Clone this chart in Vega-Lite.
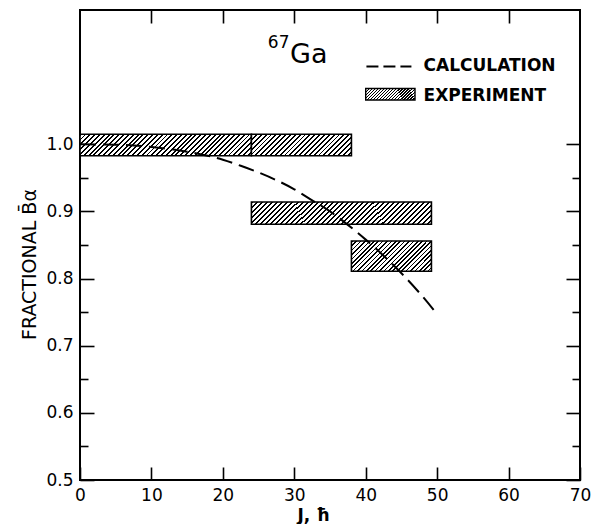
{
 "$schema": "https://vega.github.io/schema/vega-lite/v6.json",
 "width": 500,
 "height": 470,
 "autosize": {"type": "none"},
 "padding": {"left": 80, "top": 10, "right": 13, "bottom": 44},
 "background": "white",
 "config": {
  "view": {"stroke": "black", "strokeWidth": 2},
  "axis": {"domain": false, "grid": false, "labelFlush": false, "tickColor": "black", "tickWidth": 1.6, "labelColor": "black", "labelFont": "DejaVu Sans", "labelFontSize": 17, "titleColor": "black", "titleFont": "DejaVu Sans"}
 },
 "datasets": {
  "experiment": [
   {"id": "A", "j0": 0, "j1": 24, "lo": 0.983, "hi": 1.015},
   {"id": "B", "j0": 24, "j1": 38, "lo": 0.983, "hi": 1.015},
   {"id": "C", "j0": 24, "j1": 49.2, "lo": 0.881, "hi": 0.914},
   {"id": "D", "j0": 38, "j1": 49.2, "lo": 0.811, "hi": 0.856}
  ],
  "calculation": [
   {"J": 0, "B": 1.0}, {"J": 5, "B": 0.9994}, {"J": 10, "B": 0.996}, {"J": 15, "B": 0.989},
   {"J": 20, "B": 0.977}, {"J": 22.5, "B": 0.968}, {"J": 25, "B": 0.958}, {"J": 27.5, "B": 0.9465},
   {"J": 30, "B": 0.933}, {"J": 32.5, "B": 0.9165}, {"J": 35, "B": 0.9}, {"J": 37.5, "B": 0.88},
   {"J": 40, "B": 0.858}, {"J": 42.5, "B": 0.834}, {"J": 45, "B": 0.808}, {"J": 47.5, "B": 0.779},
   {"J": 50, "B": 0.747}
  ]
 },
 "data": {"values": [{}]},
 "resolve": {"axis": {"x": "independent", "y": "independent"}},
 "layer": [
  {
   "data": {"name": "experiment"},
   "transform": [{"filter": "datum.id == 'A' || datum.id == 'C'"}],
   "mark": {"type": "rect", "stroke": "black", "strokeWidth": 1.6, "fill": {"gradient": "linear", "x1": 0, "y1": 0, "x2": 1.108, "y2": 0.139, "stops": [
{"offset":0,"color":"#000"},{"offset":0.01,"color":"#000"},{"offset":0.01,"color":"#fff"},{"offset":0.025,"color":"#fff"},
{"offset":0.025,"color":"#000"},{"offset":0.035,"color":"#000"},{"offset":0.035,"color":"#fff"},{"offset":0.05,"color":"#fff"},
{"offset":0.05,"color":"#000"},{"offset":0.06,"color":"#000"},{"offset":0.06,"color":"#fff"},{"offset":0.075,"color":"#fff"},
{"offset":0.075,"color":"#000"},{"offset":0.085,"color":"#000"},{"offset":0.085,"color":"#fff"},{"offset":0.1,"color":"#fff"},
{"offset":0.1,"color":"#000"},{"offset":0.11,"color":"#000"},{"offset":0.11,"color":"#fff"},{"offset":0.125,"color":"#fff"},
{"offset":0.125,"color":"#000"},{"offset":0.135,"color":"#000"},{"offset":0.135,"color":"#fff"},{"offset":0.15,"color":"#fff"},
{"offset":0.15,"color":"#000"},{"offset":0.16,"color":"#000"},{"offset":0.16,"color":"#fff"},{"offset":0.175,"color":"#fff"},
{"offset":0.175,"color":"#000"},{"offset":0.185,"color":"#000"},{"offset":0.185,"color":"#fff"},{"offset":0.2,"color":"#fff"},
{"offset":0.2,"color":"#000"},{"offset":0.21,"color":"#000"},{"offset":0.21,"color":"#fff"},{"offset":0.225,"color":"#fff"},
{"offset":0.225,"color":"#000"},{"offset":0.235,"color":"#000"},{"offset":0.235,"color":"#fff"},{"offset":0.25,"color":"#fff"},
{"offset":0.25,"color":"#000"},{"offset":0.26,"color":"#000"},{"offset":0.26,"color":"#fff"},{"offset":0.275,"color":"#fff"},
{"offset":0.275,"color":"#000"},{"offset":0.285,"color":"#000"},{"offset":0.285,"color":"#fff"},{"offset":0.3,"color":"#fff"},
{"offset":0.3,"color":"#000"},{"offset":0.31,"color":"#000"},{"offset":0.31,"color":"#fff"},{"offset":0.325,"color":"#fff"},
{"offset":0.325,"color":"#000"},{"offset":0.335,"color":"#000"},{"offset":0.335,"color":"#fff"},{"offset":0.35,"color":"#fff"},
{"offset":0.35,"color":"#000"},{"offset":0.36,"color":"#000"},{"offset":0.36,"color":"#fff"},{"offset":0.375,"color":"#fff"},
{"offset":0.375,"color":"#000"},{"offset":0.385,"color":"#000"},{"offset":0.385,"color":"#fff"},{"offset":0.4,"color":"#fff"},
{"offset":0.4,"color":"#000"},{"offset":0.41,"color":"#000"},{"offset":0.41,"color":"#fff"},{"offset":0.425,"color":"#fff"},
{"offset":0.425,"color":"#000"},{"offset":0.435,"color":"#000"},{"offset":0.435,"color":"#fff"},{"offset":0.45,"color":"#fff"},
{"offset":0.45,"color":"#000"},{"offset":0.46,"color":"#000"},{"offset":0.46,"color":"#fff"},{"offset":0.475,"color":"#fff"},
{"offset":0.475,"color":"#000"},{"offset":0.485,"color":"#000"},{"offset":0.485,"color":"#fff"},{"offset":0.5,"color":"#fff"},
{"offset":0.5,"color":"#000"},{"offset":0.51,"color":"#000"},{"offset":0.51,"color":"#fff"},{"offset":0.525,"color":"#fff"},
{"offset":0.525,"color":"#000"},{"offset":0.535,"color":"#000"},{"offset":0.535,"color":"#fff"},{"offset":0.55,"color":"#fff"},
{"offset":0.55,"color":"#000"},{"offset":0.56,"color":"#000"},{"offset":0.56,"color":"#fff"},{"offset":0.575,"color":"#fff"},
{"offset":0.575,"color":"#000"},{"offset":0.585,"color":"#000"},{"offset":0.585,"color":"#fff"},{"offset":0.6,"color":"#fff"},
{"offset":0.6,"color":"#000"},{"offset":0.61,"color":"#000"},{"offset":0.61,"color":"#fff"},{"offset":0.625,"color":"#fff"},
{"offset":0.625,"color":"#000"},{"offset":0.635,"color":"#000"},{"offset":0.635,"color":"#fff"},{"offset":0.65,"color":"#fff"},
{"offset":0.65,"color":"#000"},{"offset":0.66,"color":"#000"},{"offset":0.66,"color":"#fff"},{"offset":0.675,"color":"#fff"},
{"offset":0.675,"color":"#000"},{"offset":0.685,"color":"#000"},{"offset":0.685,"color":"#fff"},{"offset":0.7,"color":"#fff"},
{"offset":0.7,"color":"#000"},{"offset":0.71,"color":"#000"},{"offset":0.71,"color":"#fff"},{"offset":0.725,"color":"#fff"},
{"offset":0.725,"color":"#000"},{"offset":0.735,"color":"#000"},{"offset":0.735,"color":"#fff"},{"offset":0.75,"color":"#fff"},
{"offset":0.75,"color":"#000"},{"offset":0.76,"color":"#000"},{"offset":0.76,"color":"#fff"},{"offset":0.775,"color":"#fff"},
{"offset":0.775,"color":"#000"},{"offset":0.785,"color":"#000"},{"offset":0.785,"color":"#fff"},{"offset":0.8,"color":"#fff"},
{"offset":0.8,"color":"#000"},{"offset":0.81,"color":"#000"},{"offset":0.81,"color":"#fff"},{"offset":0.825,"color":"#fff"},
{"offset":0.825,"color":"#000"},{"offset":0.835,"color":"#000"},{"offset":0.835,"color":"#fff"},{"offset":0.85,"color":"#fff"},
{"offset":0.85,"color":"#000"},{"offset":0.86,"color":"#000"},{"offset":0.86,"color":"#fff"},{"offset":0.875,"color":"#fff"},
{"offset":0.875,"color":"#000"},{"offset":0.885,"color":"#000"},{"offset":0.885,"color":"#fff"},{"offset":0.9,"color":"#fff"},
{"offset":0.9,"color":"#000"},{"offset":0.91,"color":"#000"},{"offset":0.91,"color":"#fff"},{"offset":0.925,"color":"#fff"},
{"offset":0.925,"color":"#000"},{"offset":0.935,"color":"#000"},{"offset":0.935,"color":"#fff"},{"offset":0.95,"color":"#fff"},
{"offset":0.95,"color":"#000"},{"offset":0.96,"color":"#000"},{"offset":0.96,"color":"#fff"},{"offset":0.975,"color":"#fff"},
{"offset":0.975,"color":"#000"},{"offset":0.985,"color":"#000"},{"offset":0.985,"color":"#fff"},{"offset":1,"color":"#fff"}
   ]}},
   "encoding": {
    "x": {"field": "j0", "type": "quantitative", "scale": {"domain": [0, 70], "nice": false, "zero": false},
     "axis": {"orient": "bottom", "values": [0, 10, 20, 30, 40, 50, 60, 70], "tickSize": -13, "labelPadding": 20,
      "title": "J, ħ", "titleFontSize": 17, "titleFontWeight": "bold", "titleX": 233, "titleY": 40, "titleBaseline": "alphabetic", "titleAlign": "center"}},
    "x2": {"field": "j1"},
    "y": {"field": "lo", "type": "quantitative", "scale": {"domain": [0.5, 1.2], "nice": false, "zero": false},
     "axis": {"orient": "left", "values": [0.5, 0.55, 0.6, 0.65, 0.7, 0.75, 0.8, 0.85, 0.9, 0.95, 1.0],
      "tickSize": {"condition": {"test": "round(datum.value*20) % 2 == 0", "value": -14}, "value": -8},
      "labelPadding": 21,
      "labelExpr": "round(datum.value*20) % 2 == 0 ? format(datum.value, '.1f') : ''",
      "title": "FRACTIONAL B̄α", "titleFontSize": 19, "titleFontWeight": "normal", "titleX": -44.5, "titleY": 254, "titleBaseline": "alphabetic", "titleAngle": 270, "titleAlign": "center"}},
    "y2": {"field": "hi"}
   }
  },
  {
   "data": {"name": "experiment"},
   "transform": [{"filter": "datum.id == 'B'"}],
   "mark": {"type": "rect", "stroke": "black", "strokeWidth": 1.6, "fill": {"gradient": "linear", "x1": 0, "y1": 0, "x2": 1.161, "y2": 0.25, "stops": [
{"offset":0,"color":"#000"},{"offset":0.015,"color":"#000"},{"offset":0.015,"color":"#fff"},{"offset":0.04,"color":"#fff"},
{"offset":0.04,"color":"#000"},{"offset":0.055,"color":"#000"},{"offset":0.055,"color":"#fff"},{"offset":0.08,"color":"#fff"},
{"offset":0.08,"color":"#000"},{"offset":0.095,"color":"#000"},{"offset":0.095,"color":"#fff"},{"offset":0.12,"color":"#fff"},
{"offset":0.12,"color":"#000"},{"offset":0.135,"color":"#000"},{"offset":0.135,"color":"#fff"},{"offset":0.16,"color":"#fff"},
{"offset":0.16,"color":"#000"},{"offset":0.175,"color":"#000"},{"offset":0.175,"color":"#fff"},{"offset":0.2,"color":"#fff"},
{"offset":0.2,"color":"#000"},{"offset":0.215,"color":"#000"},{"offset":0.215,"color":"#fff"},{"offset":0.24,"color":"#fff"},
{"offset":0.24,"color":"#000"},{"offset":0.255,"color":"#000"},{"offset":0.255,"color":"#fff"},{"offset":0.28,"color":"#fff"},
{"offset":0.28,"color":"#000"},{"offset":0.295,"color":"#000"},{"offset":0.295,"color":"#fff"},{"offset":0.32,"color":"#fff"},
{"offset":0.32,"color":"#000"},{"offset":0.335,"color":"#000"},{"offset":0.335,"color":"#fff"},{"offset":0.36,"color":"#fff"},
{"offset":0.36,"color":"#000"},{"offset":0.375,"color":"#000"},{"offset":0.375,"color":"#fff"},{"offset":0.4,"color":"#fff"},
{"offset":0.4,"color":"#000"},{"offset":0.415,"color":"#000"},{"offset":0.415,"color":"#fff"},{"offset":0.44,"color":"#fff"},
{"offset":0.44,"color":"#000"},{"offset":0.455,"color":"#000"},{"offset":0.455,"color":"#fff"},{"offset":0.48,"color":"#fff"},
{"offset":0.48,"color":"#000"},{"offset":0.495,"color":"#000"},{"offset":0.495,"color":"#fff"},{"offset":0.52,"color":"#fff"},
{"offset":0.52,"color":"#000"},{"offset":0.535,"color":"#000"},{"offset":0.535,"color":"#fff"},{"offset":0.56,"color":"#fff"},
{"offset":0.56,"color":"#000"},{"offset":0.575,"color":"#000"},{"offset":0.575,"color":"#fff"},{"offset":0.6,"color":"#fff"},
{"offset":0.6,"color":"#000"},{"offset":0.615,"color":"#000"},{"offset":0.615,"color":"#fff"},{"offset":0.64,"color":"#fff"},
{"offset":0.64,"color":"#000"},{"offset":0.655,"color":"#000"},{"offset":0.655,"color":"#fff"},{"offset":0.68,"color":"#fff"},
{"offset":0.68,"color":"#000"},{"offset":0.695,"color":"#000"},{"offset":0.695,"color":"#fff"},{"offset":0.72,"color":"#fff"},
{"offset":0.72,"color":"#000"},{"offset":0.735,"color":"#000"},{"offset":0.735,"color":"#fff"},{"offset":0.76,"color":"#fff"},
{"offset":0.76,"color":"#000"},{"offset":0.775,"color":"#000"},{"offset":0.775,"color":"#fff"},{"offset":0.8,"color":"#fff"},
{"offset":0.8,"color":"#000"},{"offset":0.815,"color":"#000"},{"offset":0.815,"color":"#fff"},{"offset":0.84,"color":"#fff"},
{"offset":0.84,"color":"#000"},{"offset":0.855,"color":"#000"},{"offset":0.855,"color":"#fff"},{"offset":0.88,"color":"#fff"},
{"offset":0.88,"color":"#000"},{"offset":0.895,"color":"#000"},{"offset":0.895,"color":"#fff"},{"offset":0.92,"color":"#fff"},
{"offset":0.92,"color":"#000"},{"offset":0.935,"color":"#000"},{"offset":0.935,"color":"#fff"},{"offset":0.96,"color":"#fff"},
{"offset":0.96,"color":"#000"},{"offset":0.975,"color":"#000"},{"offset":0.975,"color":"#fff"},{"offset":1,"color":"#fff"}
   ]}},
   "encoding": {
    "x": {"field": "j0", "type": "quantitative", "scale": {"domain": [0, 70], "nice": false, "zero": false}, "axis": null},
    "x2": {"field": "j1"},
    "y": {"field": "lo", "type": "quantitative", "scale": {"domain": [0.5, 1.2], "nice": false, "zero": false}, "axis": null},
    "y2": {"field": "hi"}
   }
  },
  {
   "data": {"name": "experiment"},
   "transform": [{"filter": "datum.id == 'D'"}],
   "mark": {"type": "rect", "stroke": "black", "strokeWidth": 1.6, "fill": {"gradient": "linear", "x1": 0, "y1": 0, "x2": 1.206, "y2": 0.455, "stops": [
{"offset":0,"color":"#000"},{"offset":0.015,"color":"#000"},{"offset":0.015,"color":"#fff"},{"offset":0.04,"color":"#fff"},
{"offset":0.04,"color":"#000"},{"offset":0.055,"color":"#000"},{"offset":0.055,"color":"#fff"},{"offset":0.08,"color":"#fff"},
{"offset":0.08,"color":"#000"},{"offset":0.095,"color":"#000"},{"offset":0.095,"color":"#fff"},{"offset":0.12,"color":"#fff"},
{"offset":0.12,"color":"#000"},{"offset":0.135,"color":"#000"},{"offset":0.135,"color":"#fff"},{"offset":0.16,"color":"#fff"},
{"offset":0.16,"color":"#000"},{"offset":0.175,"color":"#000"},{"offset":0.175,"color":"#fff"},{"offset":0.2,"color":"#fff"},
{"offset":0.2,"color":"#000"},{"offset":0.215,"color":"#000"},{"offset":0.215,"color":"#fff"},{"offset":0.24,"color":"#fff"},
{"offset":0.24,"color":"#000"},{"offset":0.255,"color":"#000"},{"offset":0.255,"color":"#fff"},{"offset":0.28,"color":"#fff"},
{"offset":0.28,"color":"#000"},{"offset":0.295,"color":"#000"},{"offset":0.295,"color":"#fff"},{"offset":0.32,"color":"#fff"},
{"offset":0.32,"color":"#000"},{"offset":0.335,"color":"#000"},{"offset":0.335,"color":"#fff"},{"offset":0.36,"color":"#fff"},
{"offset":0.36,"color":"#000"},{"offset":0.375,"color":"#000"},{"offset":0.375,"color":"#fff"},{"offset":0.4,"color":"#fff"},
{"offset":0.4,"color":"#000"},{"offset":0.415,"color":"#000"},{"offset":0.415,"color":"#fff"},{"offset":0.44,"color":"#fff"},
{"offset":0.44,"color":"#000"},{"offset":0.455,"color":"#000"},{"offset":0.455,"color":"#fff"},{"offset":0.48,"color":"#fff"},
{"offset":0.48,"color":"#000"},{"offset":0.495,"color":"#000"},{"offset":0.495,"color":"#fff"},{"offset":0.52,"color":"#fff"},
{"offset":0.52,"color":"#000"},{"offset":0.535,"color":"#000"},{"offset":0.535,"color":"#fff"},{"offset":0.56,"color":"#fff"},
{"offset":0.56,"color":"#000"},{"offset":0.575,"color":"#000"},{"offset":0.575,"color":"#fff"},{"offset":0.6,"color":"#fff"},
{"offset":0.6,"color":"#000"},{"offset":0.615,"color":"#000"},{"offset":0.615,"color":"#fff"},{"offset":0.64,"color":"#fff"},
{"offset":0.64,"color":"#000"},{"offset":0.655,"color":"#000"},{"offset":0.655,"color":"#fff"},{"offset":0.68,"color":"#fff"},
{"offset":0.68,"color":"#000"},{"offset":0.695,"color":"#000"},{"offset":0.695,"color":"#fff"},{"offset":0.72,"color":"#fff"},
{"offset":0.72,"color":"#000"},{"offset":0.735,"color":"#000"},{"offset":0.735,"color":"#fff"},{"offset":0.76,"color":"#fff"},
{"offset":0.76,"color":"#000"},{"offset":0.775,"color":"#000"},{"offset":0.775,"color":"#fff"},{"offset":0.8,"color":"#fff"},
{"offset":0.8,"color":"#000"},{"offset":0.815,"color":"#000"},{"offset":0.815,"color":"#fff"},{"offset":0.84,"color":"#fff"},
{"offset":0.84,"color":"#000"},{"offset":0.855,"color":"#000"},{"offset":0.855,"color":"#fff"},{"offset":0.88,"color":"#fff"},
{"offset":0.88,"color":"#000"},{"offset":0.895,"color":"#000"},{"offset":0.895,"color":"#fff"},{"offset":0.92,"color":"#fff"},
{"offset":0.92,"color":"#000"},{"offset":0.935,"color":"#000"},{"offset":0.935,"color":"#fff"},{"offset":0.96,"color":"#fff"},
{"offset":0.96,"color":"#000"},{"offset":0.975,"color":"#000"},{"offset":0.975,"color":"#fff"},{"offset":1,"color":"#fff"}
   ]}},
   "encoding": {
    "x": {"field": "j0", "type": "quantitative", "scale": {"domain": [0, 70], "nice": false, "zero": false}, "axis": null},
    "x2": {"field": "j1"},
    "y": {"field": "lo", "type": "quantitative", "scale": {"domain": [0.5, 1.2], "nice": false, "zero": false}, "axis": null},
    "y2": {"field": "hi"}
   }
  },
  {
   "data": {"name": "calculation"},
   "mark": {"type": "line", "stroke": "black", "strokeWidth": 2, "strokeDash": [16, 7], "interpolate": "monotone"},
   "encoding": {
    "x": {"field": "J", "type": "quantitative", "scale": {"domain": [0, 70], "nice": false, "zero": false},
     "axis": {"orient": "top", "values": [10, 20, 30, 40, 50, 60], "tickSize": -13, "labels": false, "title": null}},
    "y": {"field": "B", "type": "quantitative", "scale": {"domain": [0.5, 1.2], "nice": false, "zero": false},
     "axis": {"orient": "right", "values": [0.5, 0.55, 0.6, 0.65, 0.7, 0.75, 0.8, 0.85, 0.9, 0.95, 1.0],
      "tickSize": {"condition": {"test": "round(datum.value*20) % 2 == 0", "value": -14}, "value": -8},
      "labels": false, "title": null}}
   }
  },
  {
   "mark": {"type": "rule", "stroke": "black", "strokeWidth": 2, "strokeDash": [12, 5]},
   "encoding": {
    "x": {"datum": 40.1, "type": "quantitative", "scale": {"domain": [0, 70], "nice": false, "zero": false}, "axis": null},
    "x2": {"datum": 46.4},
    "y": {"datum": 1.116, "type": "quantitative", "scale": {"domain": [0.5, 1.2], "nice": false, "zero": false}, "axis": null}
   }
  },
  {
   "mark": {"type": "rect", "stroke": "black", "strokeWidth": 1.4, "fill": {"gradient": "linear", "x1": 0, "y1": 0, "x2": 1.172, "y2": 0.278, "stops": [
{"offset":0,"color":"#000"},{"offset":0.02,"color":"#000"},{"offset":0.02,"color":"#fff"},{"offset":0.05,"color":"#fff"},
{"offset":0.05,"color":"#000"},{"offset":0.07,"color":"#000"},{"offset":0.07,"color":"#fff"},{"offset":0.1,"color":"#fff"},
{"offset":0.1,"color":"#000"},{"offset":0.12,"color":"#000"},{"offset":0.12,"color":"#fff"},{"offset":0.15,"color":"#fff"},
{"offset":0.15,"color":"#000"},{"offset":0.17,"color":"#000"},{"offset":0.17,"color":"#fff"},{"offset":0.2,"color":"#fff"},
{"offset":0.2,"color":"#000"},{"offset":0.22,"color":"#000"},{"offset":0.22,"color":"#fff"},{"offset":0.25,"color":"#fff"},
{"offset":0.25,"color":"#000"},{"offset":0.27,"color":"#000"},{"offset":0.27,"color":"#fff"},{"offset":0.3,"color":"#fff"},
{"offset":0.3,"color":"#000"},{"offset":0.32,"color":"#000"},{"offset":0.32,"color":"#fff"},{"offset":0.35,"color":"#fff"},
{"offset":0.35,"color":"#000"},{"offset":0.37,"color":"#000"},{"offset":0.37,"color":"#fff"},{"offset":0.4,"color":"#fff"},
{"offset":0.4,"color":"#000"},{"offset":0.42,"color":"#000"},{"offset":0.42,"color":"#fff"},{"offset":0.45,"color":"#fff"},
{"offset":0.45,"color":"#000"},{"offset":0.47,"color":"#000"},{"offset":0.47,"color":"#fff"},{"offset":0.5,"color":"#fff"},
{"offset":0.5,"color":"#000"},{"offset":0.52,"color":"#000"},{"offset":0.52,"color":"#fff"},{"offset":0.55,"color":"#fff"},
{"offset":0.55,"color":"#000"},{"offset":0.57,"color":"#000"},{"offset":0.57,"color":"#fff"},{"offset":0.6,"color":"#fff"},
{"offset":0.6,"color":"#000"},{"offset":0.62,"color":"#000"},{"offset":0.62,"color":"#fff"},{"offset":0.65,"color":"#fff"},
{"offset":0.65,"color":"#000"},{"offset":0.67,"color":"#000"},{"offset":0.67,"color":"#fff"},{"offset":0.7,"color":"#fff"},
{"offset":0.7,"color":"#000"},{"offset":0.72,"color":"#000"},{"offset":0.72,"color":"#fff"},{"offset":0.75,"color":"#fff"},
{"offset":0.75,"color":"#000"},{"offset":0.77,"color":"#000"},{"offset":0.77,"color":"#fff"},{"offset":0.8,"color":"#fff"},
{"offset":0.8,"color":"#000"},{"offset":0.82,"color":"#000"},{"offset":0.82,"color":"#fff"},{"offset":0.85,"color":"#fff"},
{"offset":0.85,"color":"#000"},{"offset":0.87,"color":"#000"},{"offset":0.87,"color":"#fff"},{"offset":0.9,"color":"#fff"},
{"offset":0.9,"color":"#000"},{"offset":0.92,"color":"#000"},{"offset":0.92,"color":"#fff"},{"offset":0.95,"color":"#fff"},
{"offset":0.95,"color":"#000"},{"offset":0.97,"color":"#000"},{"offset":0.97,"color":"#fff"},{"offset":1,"color":"#fff"}
   ]}},
   "encoding": {
    "x": {"datum": 40.0, "type": "quantitative", "scale": {"domain": [0, 70], "nice": false, "zero": false}, "axis": null},
    "x2": {"datum": 46.9},
    "y": {"datum": 1.066, "type": "quantitative", "scale": {"domain": [0.5, 1.2], "nice": false, "zero": false}, "axis": null},
    "y2": {"datum": 1.083}
   }
  },
  {
   "mark": {"type": "text", "text": "CALCULATION", "align": "left", "baseline": "middle", "font": "DejaVu Sans", "fontSize": 17, "fontWeight": "bold", "fill": "black"},
   "encoding": {
    "x": {"datum": 48.1, "type": "quantitative", "scale": {"domain": [0, 70], "nice": false, "zero": false}, "axis": null},
    "y": {"datum": 1.116, "type": "quantitative", "scale": {"domain": [0.5, 1.2], "nice": false, "zero": false}, "axis": null}
   }
  },
  {
   "mark": {"type": "text", "text": "EXPERIMENT", "align": "left", "baseline": "middle", "font": "DejaVu Sans", "fontSize": 17, "fontWeight": "bold", "fill": "black"},
   "encoding": {
    "x": {"datum": 48.1, "type": "quantitative", "scale": {"domain": [0, 70], "nice": false, "zero": false}, "axis": null},
    "y": {"datum": 1.0722, "type": "quantitative", "scale": {"domain": [0.5, 1.2], "nice": false, "zero": false}, "axis": null}
   }
  },
  {
   "mark": {"type": "text", "text": "67", "align": "left", "baseline": "alphabetic", "font": "DejaVu Sans", "fontSize": 17, "fill": "black"},
   "encoding": {
    "x": {"datum": 26.3, "type": "quantitative", "scale": {"domain": [0, 70], "nice": false, "zero": false}, "axis": null},
    "y": {"datum": 1.143, "type": "quantitative", "scale": {"domain": [0.5, 1.2], "nice": false, "zero": false}, "axis": null}
   }
  },
  {
   "mark": {"type": "text", "text": "Ga", "align": "left", "baseline": "alphabetic", "font": "DejaVu Sans", "fontSize": 27, "fill": "black"},
   "encoding": {
    "x": {"datum": 29.4, "type": "quantitative", "scale": {"domain": [0, 70], "nice": false, "zero": false}, "axis": null},
    "y": {"datum": 1.121, "type": "quantitative", "scale": {"domain": [0.5, 1.2], "nice": false, "zero": false}, "axis": null}
   }
  }
 ]
}
